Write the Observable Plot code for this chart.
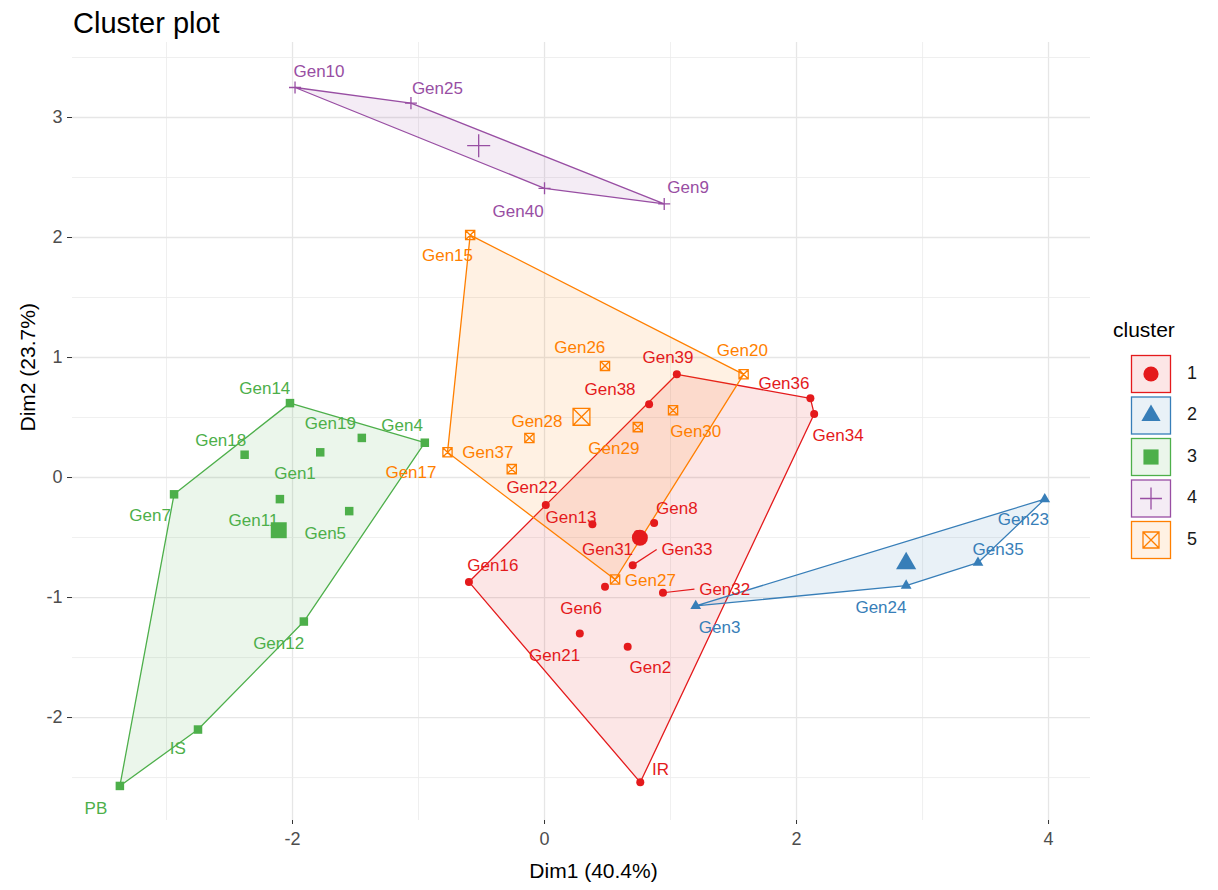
<!DOCTYPE html>
<html><head><meta charset="utf-8">
<script src="https://cdn.jsdelivr.net/npm/d3@7"></script>
<script src="https://cdn.jsdelivr.net/npm/@observablehq/plot@0.6"></script>
<style>
body{margin:0;background:#fff;font-family:"Liberation Sans",Arial,sans-serif;}
#wrap{position:relative;width:1218px;height:890px;overflow:hidden;}
#title{height:40px;padding-left:73px;font-size:29px;line-height:46px;color:#000;}
#legend{position:absolute;left:1100px;top:300px;}
</style></head><body>
<div id="wrap"><div id="title">Cluster plot</div><div id="chart"></div><div id="legend"></div></div>
<script>
// ---- data ----
const clusters = ["1", "2", "3", "4", "5"];
const clusterColors = ["#E41A1C", "#377EB8", "#4DAF4A", "#984EA3", "#FF7F00"];

const genotypes = [
  "Gen39","Gen38","Gen36","Gen34","Gen22","Gen13","Gen31","Gen8","Gen33","Gen6","Gen32","Gen16","Gen21","Gen2","IR",
  "Gen3","Gen24","Gen35","Gen23",
  "Gen14","Gen18","Gen1","Gen19","Gen4","Gen7","Gen11","Gen5","Gen12","IS","PB",
  "Gen10","Gen25","Gen40","Gen9",
  "Gen15","Gen26","Gen20","Gen30","Gen29","Gen28","Gen17","Gen37","Gen27"
];
const clusterOf = [
  "1","1","1","1","1","1","1","1","1","1","1","1","1","1","1",
  "2","2","2","2",
  "3","3","3","3","3","3","3","3","3","3","3",
  "4","4","4","4",
  "5","5","5","5","5","5","5","5","5"
];
const dim1 = [
  1.05, 0.83, 2.11, 2.14, 0.01, 0.38, 0.74, 0.87, 0.70, 0.48, 0.94, -0.60, 0.28, 0.66, 0.76,
  1.20, 2.87, 3.44, 3.97,
  -2.02, -2.38, -1.78, -1.45, -0.95, -2.94, -2.10, -1.55, -1.91, -2.75, -3.37,
  -1.98, -1.06, 0.00, 0.95,
  -0.59, 0.48, 1.58, 1.02, 0.74, -0.12, -0.77, -0.26, 0.56
];
const dim2 = [
  0.86, 0.61, 0.66, 0.53, -0.23, -0.39, -0.47, -0.38, -0.73, -0.91, -0.96, -0.87, -1.30, -1.41, -2.54,
  -1.07, -0.90, -0.71, -0.18,
  0.62, 0.19, 0.21, 0.33, 0.29, -0.14, -0.18, -0.28, -1.20, -2.10, -2.57,
  3.25, 3.12, 2.41, 2.28,
  2.02, 0.93, 0.86, 0.56, 0.42, 0.33, 0.21, 0.07, -0.85
];
// label anchor positions (repelled), in Dim units
const labelDim1 = [
  0.98, 0.52, 1.90, 2.33, -0.10, 0.21, 0.50, 1.05, 1.13, 0.29, 1.43, -0.41, 0.08, 0.84, 0.92,
  1.39, 2.67, 3.60, 3.80,
  -2.22, -2.57, -1.98, -1.70, -1.13, -3.13, -2.31, -1.74, -2.11, -2.91, -3.56,
  -1.79, -0.85, -0.21, 1.14,
  -0.77, 0.28, 1.57, 1.20, 0.55, -0.06, -1.06, -0.45, 0.84
];
const labelDim2 = [
  1.00, 0.73, 0.78, 0.35, -0.08, -0.33, -0.60, -0.26, -0.60, -1.09, -0.93, -0.73, -1.48, -1.58, -2.43,
  -1.25, -1.08, -0.60, -0.35,
  0.74, 0.31, 0.03, 0.45, 0.43, -0.32, -0.36, -0.47, -1.38, -2.26, -2.76,
  3.38, 3.24, 2.22, 2.42,
  1.85, 1.08, 1.06, 0.38, 0.24, 0.47, 0.04, 0.21, -0.86
];
const repelSegments = ["Gen33", "Gen32"];
const xTicks = [-2, 0, 2, 4];
const yTicks = [-2, -1, 0, 1, 2, 3];
const xLabel = "Dim1 (40.4%)";
const yLabel = "Dim2 (23.7%)";
const legendTitle = "cluster";

// ---- build table ----
const data = genotypes.map((name, i) => ({
  name, cluster: clusterOf[i], x: dim1[i], y: dim2[i], lx: labelDim1[i], ly: labelDim2[i]
}));
const colorOf = c => clusterColors[clusters.indexOf(c)];
const centroids = clusters.map(c => {
  const pts = data.filter(d => d.cluster === c);
  return {cluster: c, x: d3.mean(pts, d => d.x), y: d3.mean(pts, d => d.y)};
});

// ---- symbols (ggplot shapes 19, 17, 15, 3, 7) ----
const plusSym = {draw(ctx, size) { const r = Math.sqrt(size) / 2; ctx.moveTo(-r, 0); ctx.lineTo(r, 0); ctx.moveTo(0, -r); ctx.lineTo(0, r); }};
const boxXSym = {draw(ctx, size) { const r = Math.sqrt(size) / 2;
  ctx.moveTo(-r, -r); ctx.lineTo(r, -r); ctx.lineTo(r, r); ctx.lineTo(-r, r); ctx.closePath();
  ctx.moveTo(-r, -r); ctx.lineTo(r, r); ctx.moveTo(r, -r); ctx.lineTo(-r, r); }};
const shapeSpec = {
  "1": {symbol: "circle", filled: true, r: 4, rc: 8},
  "2": {symbol: "triangle", filled: true, r: 4, rc: 7.5},
  "3": {symbol: "square", filled: true, r: 4.8, rc: 9},
  "4": {symbol: plusSym, filled: false, r: 6.8, rc: 13},
  "5": {symbol: boxXSym, filled: false, r: 5.2, rc: 9.5}
};
const fmt = d => String(d);

const marks = [
  Plot.gridX([-3, -1, 1, 3], {stroke: "#ebebeb", strokeOpacity: 1, strokeWidth: 0.8}),
  Plot.gridX(xTicks, {stroke: "#e6e6e6", strokeOpacity: 1, strokeWidth: 1.3}),
  Plot.gridY([-2.5, -1.5, -0.5, 0.5, 1.5, 2.5, 3.5], {stroke: "#ebebeb", strokeOpacity: 1, strokeWidth: 0.8}),
  Plot.gridY(yTicks, {stroke: "#e6e6e6", strokeOpacity: 1, strokeWidth: 1.3}),
  Plot.axisX(xTicks, {tickSize: 4, tickPadding: 8, fontSize: 18, color: "#4d4d4d", stroke: "#333", label: null, tickFormat: fmt}),
  Plot.axisY(yTicks, {tickSize: 5, tickPadding: 5, fontSize: 18, color: "#4d4d4d", stroke: "#333", label: null, tickFormat: fmt})
];
for (const c of clusters) {
  const col = colorOf(c);
  marks.push(Plot.hull(data.filter(d => d.cluster === c), {x: "x", y: "y", fill: col, fillOpacity: 0.11, stroke: col, strokeWidth: 1.3}));
}
for (const c of clusters) {
  const col = colorOf(c), s = shapeSpec[c];
  const pts = data.filter(d => d.cluster === c);
  const cen = centroids.filter(d => d.cluster === c);
  const style = s.filled ? {fill: col, stroke: "none"} : {fill: "none", stroke: col, strokeWidth: 1.3};
  marks.push(Plot.dot(pts, {x: "x", y: "y", symbol: () => s.symbol, r: s.r, ...style}));
  marks.push(Plot.dot(cen, {x: "x", y: "y", symbol: () => s.symbol, r: s.rc, ...style}));
}
const segs = data.filter(d => repelSegments.includes(d.name));
marks.push(Plot.link(segs, {x1: "x", y1: "y", x2: d => d.lx - 0.24, y2: "ly", stroke: d => colorOf(d.cluster), strokeWidth: 1.2}));
marks.push(Plot.text(data, {x: "lx", y: "ly", text: "name", fill: d => colorOf(d.cluster), fontSize: 17, fontFamily: "Liberation Sans, Arial, sans-serif"}));
marks.push(Plot.text([xLabel], {text: d => d, frameAnchor: "bottom", dy: 57, dx: 12, fontSize: 21, fill: "#000"}));
marks.push(Plot.text([yLabel], {text: d => d, frameAnchor: "left", rotate: -90, dx: -44, fontSize: 21, fill: "#000"}));

const chart = Plot.plot({
  width: 1218, height: 850,
  marginTop: 2, marginLeft: 72, marginRight: 128, marginBottom: 70,
  x: {domain: [-3.746, 4.333]},
  y: {domain: [-2.858, 3.625]},
  color: {type: "identity"},
  style: {fontFamily: "Liberation Sans, Arial, sans-serif", background: "#fff", overflow: "visible"},
  marks
});
document.getElementById("chart").appendChild(chart);

// ---- legend ----
const lg = d3.select("#legend").append("svg").attr("width", 118).attr("height", 280)
  .style("font-family", "Liberation Sans, Arial, sans-serif");
lg.append("text").attr("x", 13).attr("y", 31).attr("dominant-baseline", "middle")
  .attr("font-size", 21).attr("fill", "#000").text(legendTitle);
clusters.forEach((c, i) => {
  const col = colorOf(c), s = shapeSpec[c];
  const y0 = 55 + i * 41.5;
  lg.append("rect").attr("x", 31.5).attr("y", y0 + 0.5).attr("width", 39).attr("height", 37)
    .attr("fill", col).attr("fill-opacity", 0.11).attr("stroke", col).attr("stroke-width", 1.3);
  const sym = typeof s.symbol === "string" ? {circle: d3.symbolCircle, triangle: d3.symbolTriangle, square: d3.symbolSquare}[s.symbol] : s.symbol;
  const rr = s.rc * 0.95;
  lg.append("path").attr("transform", `translate(51,${y0 + 19})`)
    .attr("d", d3.symbol(sym, rr * rr * Math.PI)())
    .attr("fill", s.filled ? col : "none").attr("stroke", s.filled ? "none" : col).attr("stroke-width", 1.3);
  lg.append("text").attr("x", 87).attr("y", y0 + 19).attr("dominant-baseline", "middle")
    .attr("font-size", 18).attr("fill", "#1a1a1a").text(c);
});
</script>
</body></html>
